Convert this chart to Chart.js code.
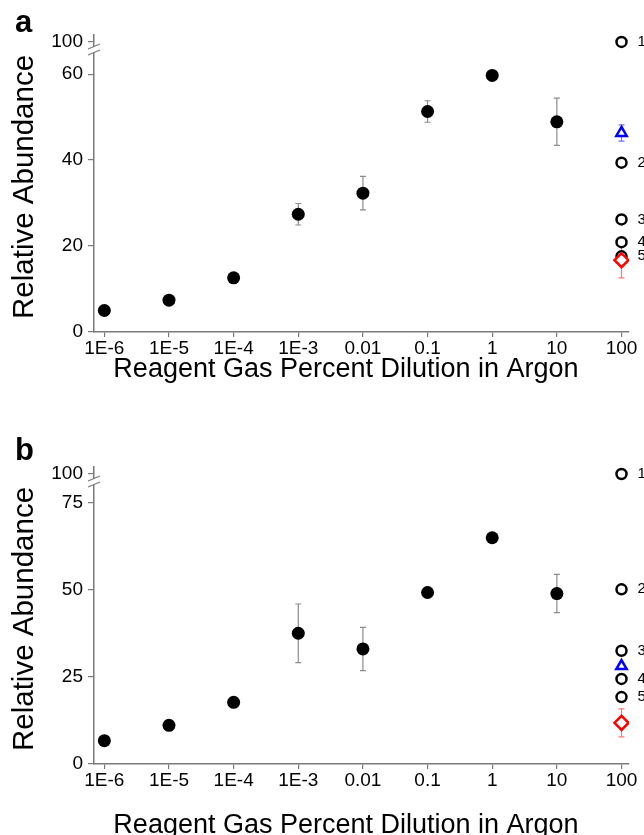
<!DOCTYPE html>
<html>
<head>
<meta charset="utf-8">
<title>Relative Abundance vs Reagent Gas Dilution</title>
<script src="https://cdn.jsdelivr.net/npm/chart.js@4.4.0/dist/chart.umd.min.js"></script>
<style>
    body { margin: 0; background: #fff; }
    canvas { display: block; }
</style>
</head>
<body>
<canvas id="chartA" width="644" height="417"></canvas>
<canvas id="chartB" width="644" height="418"></canvas>
<script>
// ===========================
// Data
// ===========================

const dilutions = [1e-6, 1e-5, 1e-4, 1e-3, 0.01, 0.1, 1, 10];
const xTickValues = [1e-6, 1e-5, 1e-4, 1e-3, 0.01, 0.1, 1, 10, 100];
const xTickLabels = ['1E-6', '1E-5', '1E-4', '1E-3', '0.01', '0.1', '1', '10', '100'];
const refX = 100;
const refLabels = ['1', '2', '3', '4', '5'];

// panel a
const aMeans = [5.0, 7.4, 12.6, 27.4, 32.3, 51.3, 59.7, 48.9];
const aErrors = [0, 0, 0, 2.5, 3.9, 2.5, 0.5, 5.5];
const aRefs = [100, 39.4, 26.2, 20.9, 17.6];
const aTriangle = [46.3];
const aTriangleErr = [1.9];
const aDiamond = [16.7];
const aDiamondErr = [4.1];
const aYTicks = [0, 20, 40, 60, 100];

// panel b
const bMeans = [6.7, 11.1, 17.7, 37.5, 33.0, 49.2, 64.9, 48.9];
const bErrors = [0, 0, 0, 8.4, 6.2, 1.5, 0.5, 5.5];
const bRefs = [100, 50.1, 32.5, 24.4, 19.2];
const bTriangle = [28.1];
const bTriangleErr = [0];
const bDiamond = [11.8];
const bDiamondErr = [4.0];
const bYTicks = [0, 25, 50, 75, 100];

const FONT = '"Liberation Sans", Arial, sans-serif';
const AXIS_GREY = '#7a7a7a';

// ===========================
// Linear scale with a broken top (100 squeezed above the break)
// ===========================

class BrokenLinearScale extends Chart.LinearScale {
    getPixelForValue(value) {
        const brk = this.options.brk;
        let v = value;
        if (brk && value > brk.from) {
            v = brk.from + (value - brk.from) * brk.ratio;
        }
        return super.getPixelForValue(v);
    }
}
BrokenLinearScale.id = 'brokenLinear';
BrokenLinearScale.defaults = Chart.LinearScale.defaults;
Chart.register(BrokenLinearScale);

// ===========================
// Panel builder
// ===========================

function makePanel(canvasId, p) {
    const canvas = document.getElementById(canvasId);

    const decor = {
        id: 'decor',
        beforeDatasetsDraw(chart) {
            const c = chart.ctx;
            const ys = chart.scales.y;
            const bars = [
                { meta: chart.getDatasetMeta(0), vals: p.means, errs: p.errors, color: '#8c8c8c' },
                { meta: chart.getDatasetMeta(2), vals: p.triangle, errs: p.triangleErr, color: '#7070ff' },
                { meta: chart.getDatasetMeta(3), vals: p.diamond, errs: p.diamondErr, color: '#ff7878' }
            ];
            c.save();
            c.lineWidth = 1.2;
            bars.forEach(set => {
                c.strokeStyle = set.color;
                set.meta.data.forEach((el, i) => {
                    const err = set.errs[i];
                    if (!err) return;
                    const top = ys.getPixelForValue(set.vals[i] + err);
                    const bot = ys.getPixelForValue(set.vals[i] - err);
                    c.beginPath();
                    c.moveTo(el.x, top);
                    c.lineTo(el.x, bot);
                    c.moveTo(el.x - 3, top);
                    c.lineTo(el.x + 3, top);
                    c.moveTo(el.x - 3, bot);
                    c.lineTo(el.x + 3, bot);
                    c.stroke();
                });
            });
            c.restore();
        },
        afterDatasetsDraw(chart) {
            const c = chart.ctx;
            c.save();
            c.fillStyle = '#000';
            c.font = '15px ' + FONT;
            c.textAlign = 'left';
            c.textBaseline = 'middle';
            chart.getDatasetMeta(1).data.forEach((el, i) => {
                c.fillText(refLabels[i], el.x + 16, el.y);
            });
            c.restore();
        },
        afterDraw(chart) {
            const c = chart.ctx;
            const ys = chart.scales.y;
            const area = chart.chartArea;

            // axis break
            const by = ys.getPixelForValue(p.brk.mark);
            const bx = area.left;
            c.save();
            c.fillStyle = '#fff';
            c.fillRect(bx - 2, by - 3, 4, 6);
            c.strokeStyle = AXIS_GREY;
            c.lineWidth = 1.2;
            c.beginPath();
            c.moveTo(bx - 6, by - 1);
            c.lineTo(bx + 6, by - 6);
            c.moveTo(bx - 6, by + 5);
            c.lineTo(bx + 6, by);
            c.stroke();

            // axis titles
            c.fillStyle = '#000';
            c.textAlign = 'center';
            c.textBaseline = 'alphabetic';
            c.font = '27px ' + FONT;
            c.fillText('Reagent Gas Percent Dilution in Argon', 346, p.xTitleY);

            c.save();
            c.translate(33, (ys.getPixelForValue(0) + ys.getPixelForValue(100)) / 2);
            c.rotate(-Math.PI / 2);
            c.font = '29.5px ' + FONT;
            c.fillText('Relative Abundance', 0, 0);
            c.restore();

            // panel letter
            c.textAlign = 'left';
            c.font = 'bold 31px ' + FONT;
            c.fillText(p.letter, 15, p.letterY);
            c.restore();
        }
    };

    return new Chart(canvas, {
        type: 'scatter',
        data: {
            datasets: [{
                label: 'Dilution series',
                data: dilutions.map((x, i) => ({ x: x, y: p.means[i] })),
                pointRadius: 6.5,
                pointBackgroundColor: '#000',
                pointBorderWidth: 0,
                order: 3
            }, {
                label: 'Reference gases',
                data: p.refs.map(y => ({ x: refX, y: y })),
                pointRadius: 5,
                pointBackgroundColor: '#fff',
                pointBorderColor: '#000',
                pointBorderWidth: 2.5,
                order: 2
            }, {
                label: 'Triangle',
                data: p.triangle.map(y => ({ x: refX, y: y })),
                pointStyle: 'triangle',
                pointRadius: 6,
                pointBackgroundColor: '#fff',
                pointBorderColor: '#0000ff',
                pointBorderWidth: 2.5,
                order: 1
            }, {
                label: 'Diamond',
                data: p.diamond.map(y => ({ x: refX, y: y })),
                pointStyle: 'rectRot',
                pointRadius: 7,
                pointBackgroundColor: '#fff',
                pointBorderColor: '#ff0000',
                pointBorderWidth: 2.5,
                order: 0
            }]
        },
        options: {
            responsive: false,
            animation: false,
            devicePixelRatio: 1,
            layout: {
                padding: { top: p.top, right: 15, left: 0, bottom: 0 }
            },
            plugins: {
                legend: { display: false },
                tooltip: { enabled: false }
            },
            scales: {
                x: {
                    type: 'logarithmic',
                    min: Math.pow(10, -6.16),
                    max: Math.pow(10, 2.116),
                    afterBuildTicks: s => { s.ticks = xTickValues.map(v => ({ value: v })); },
                    afterFit: s => { s.height = p.xHeight; },
                    ticks: {
                        autoSkip: false,
                        maxRotation: 0,
                        padding: 0,
                        color: '#000',
                        font: { family: FONT, size: 19 },
                        callback: (v, i) => xTickLabels[i]
                    },
                    grid: {
                        drawOnChartArea: false,
                        drawTicks: true,
                        tickLength: 5,
                        color: AXIS_GREY,
                        lineWidth: 1.2
                    },
                    border: { display: true, color: AXIS_GREY, width: 1.5 }
                },
                y: {
                    type: 'brokenLinear',
                    min: 0,
                    max: p.yMax,
                    brk: p.brk,
                    afterBuildTicks: s => { s.ticks = p.yTicks.map(v => ({ value: v })); },
                    afterFit: s => { s.width = 94; },
                    ticks: {
                        padding: 5,
                        color: '#000',
                        font: { family: FONT, size: 19 },
                        callback: v => String(v)
                    },
                    grid: {
                        drawOnChartArea: false,
                        drawTicks: true,
                        tickLength: 6,
                        color: AXIS_GREY,
                        lineWidth: 1.2
                    },
                    border: { display: true, color: AXIS_GREY, width: 1.5 }
                }
            }
        },
        plugins: [decor]
    });
}

// ===========================
// Build both panels
// ===========================

makePanel('chartA', {
    letter: 'a', letterY: 32, xTitleY: 377, top: 35, xHeight: 85,
    yMax: 69.1, yTicks: aYTicks, brk: { from: 60, ratio: 0.1875, mark: 90 },
    means: aMeans, errors: aErrors, refs: aRefs,
    triangle: aTriangle, triangleErr: aTriangleErr,
    diamond: aDiamond, diamondErr: aDiamondErr
});

makePanel('chartB', {
    letter: 'b', letterY: 43, xTitleY: 416, top: 50, xHeight: 71,
    yMax: 85.2, yTicks: bYTicks, brk: { from: 75, ratio: 0.328, mark: 93 },
    means: bMeans, errors: bErrors, refs: bRefs,
    triangle: bTriangle, triangleErr: bTriangleErr,
    diamond: bDiamond, diamondErr: bDiamondErr
});
</script>
</body>
</html>
